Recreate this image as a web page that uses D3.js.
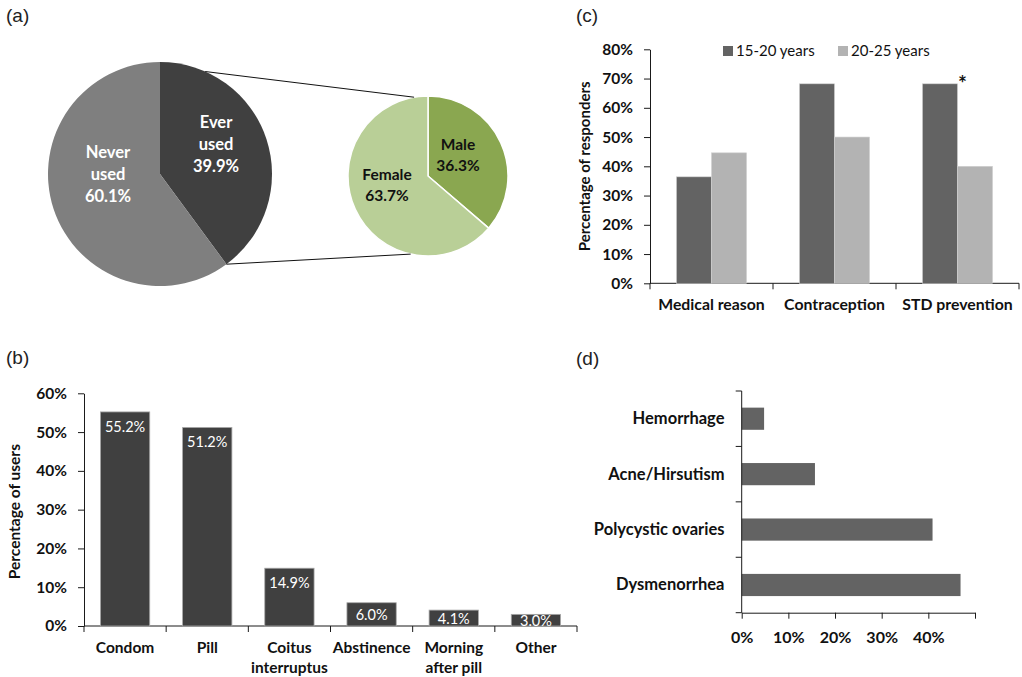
<!DOCTYPE html>
<html>
<head>
<meta charset="utf-8">
<script src="https://cdn.jsdelivr.net/npm/d3@7"></script>
<style>
  html, body { margin: 0; padding: 0; background: #fff; }
  svg { display: block; }
  text { font-family: Lato, "Open Sans", sans-serif; }
</style>
</head>
<body>
<svg id="chart" width="1022" height="677"></svg>
<script>
// ---------- DATA ----------
// (a) pie of pie
const useLabels = ["Ever used", "Never used"];
const useValues = [39.9, 60.1];
const sexLabels = ["Male", "Female"];
const sexValues = [36.3, 63.7];

// (b) methods used
const methodLabels = [["Condom"], ["Pill"], ["Coitus", "interruptus"], ["Abstinence"], ["Morning", "after pill"], ["Other"]];
const methodValues = [55.2, 51.2, 14.9, 6.0, 4.1, 3.0];
const methodTicks = [0, 10, 20, 30, 40, 50, 60];

// (c) reasons by age group
const reasonCategories = ["Medical reason", "Contraception", "STD prevention"];
const ageGroups = ["15-20 years", "20-25 years"];
const reasonYoung = [36.4, 68.2, 68.2];
const reasonOlder = [44.6, 50.0, 40.0];
const reasonTicks = [0, 10, 20, 30, 40, 50, 60, 70, 80];
const significant = ["STD prevention"];

// (d) medical reasons
const medicalCategories = ["Hemorrhage", "Acne/Hirsutism", "Polycystic ovaries", "Dysmenorrhea"];
const medicalValues = [4.8, 15.7, 40.9, 46.9];
const medicalTicks = [0, 10, 20, 30, 40, 50];
const medicalTickLabels = ["0%", "10%", "20%", "30%", "40%", ""];

// ---------- DRAW ----------
const svg = d3.select("#chart");
const FONT = "Lato, 'Open Sans', sans-serif";
const AXIS = "#1a1a1a";

function panelLabel(txt, x, y) {
  svg.append("text").attr("x", x).attr("y", y).text(txt)
    .style("font-family", "'Liberation Sans', Arial, sans-serif")
    .style("font-size", "19px").attr("fill", "#222");
}
panelLabel("(a)", 6, 22);
panelLabel("(c)", 576, 22);
panelLabel("(b)", 6, 364);
panelLabel("(d)", 576, 365);

// ===== (a) =====
(function () {
  const big = { cx: 160, cy: 174, r: 112 };
  const small = { cx: 428, cy: 176, r: 80 };
  const pie = d3.pie().sort(null).value(d => d.v);
  const bigArcs = pie(useLabels.map((l, i) => ({ l, v: useValues[i] })));
  const smallArcs = pie(sexLabels.map((l, i) => ({ l, v: sexValues[i] })));
  const bigColors = ["#404040", "#7f7f7f"];
  const smallColors = ["#8aa750", "#b9cf97"];

  const gB = svg.append("g").attr("transform", `translate(${big.cx},${big.cy})`);
  gB.selectAll("path").data(bigArcs).join("path")
    .attr("d", d3.arc().innerRadius(0).outerRadius(big.r))
    .attr("fill", (d, i) => bigColors[i]);

  const gS = svg.append("g").attr("transform", `translate(${small.cx},${small.cy})`);
  gS.selectAll("path").data(smallArcs).join("path")
    .attr("d", d3.arc().innerRadius(0).outerRadius(small.r))
    .attr("fill", (d, i) => smallColors[i])
    .attr("stroke", "#fff").attr("stroke-width", 1.5);

  // connector lines
  const pt = (c, a) => [c.cx + c.r * Math.sin(a), c.cy - c.r * Math.cos(a)];
  const deg = Math.PI / 180;
  const bigTop = pt(big, 23.8 * deg);
  const bigBot = pt(big, bigArcs[0].endAngle);
  const smTop = pt(small, -10 * deg);
  const smBot = pt(small, 192.5 * deg);
  svg.append("line").attr("x1", bigTop[0]).attr("y1", bigTop[1]).attr("x2", smTop[0]).attr("y2", smTop[1])
    .attr("stroke", "#111").attr("stroke-width", 1);
  svg.append("line").attr("x1", bigBot[0]).attr("y1", bigBot[1]).attr("x2", smBot[0]).attr("y2", smBot[1])
    .attr("stroke", "#111").attr("stroke-width", 1);

  // labels
  const bigLabelPos = [[56, -30], [-52, 0]];
  const bigLines = [["Ever", "used", useValues[0].toFixed(1) + "%"], ["Never", "used", useValues[1].toFixed(1) + "%"]];
  bigLines.forEach((lines, i) => {
    const t = gB.append("text").attr("text-anchor", "middle")
      .attr("transform", `translate(${bigLabelPos[i][0]},${bigLabelPos[i][1]})`)
      .style("font-size", "16.5px").style("font-weight", "bold").attr("fill", "#fff");
    lines.forEach((ln, j) => t.append("tspan").attr("x", 0).attr("y", (j - 1) * 22 + 6).text(ln));
  });
  const smLabelPos = [[30, -20.5], [-41, 9]];
  const smLines = [["Male", sexValues[0].toFixed(1) + "%"], ["Female", sexValues[1].toFixed(1) + "%"]];
  smLines.forEach((lines, i) => {
    const t = gS.append("text").attr("text-anchor", "middle")
      .attr("transform", `translate(${smLabelPos[i][0]},${smLabelPos[i][1]})`)
      .style("font-size", "15.5px").style("font-weight", "bold").attr("fill", "#111");
    lines.forEach((ln, j) => t.append("tspan").attr("x", 0).attr("y", (j - 0.5) * 21 + 5).text(ln));
  });
})();

// ===== (b) =====
(function () {
  const x = d3.scaleBand().domain(d3.range(methodValues.length)).range([84, 577]).paddingInner(0.4).paddingOuter(0.2);
  const y = d3.scaleLinear().domain([0, 60]).range([626, 393.3]);
  const g = svg.append("g");

  const ya = d3.axisLeft(y).tickValues(methodTicks).tickFormat(d => d + "%").tickSize(6).tickSizeOuter(0).tickPadding(11);
  const gy = g.append("g").attr("transform", `translate(${x.range()[0]},0)`).call(ya);
  gy.selectAll("text").style("font-size", "15.5px").style("font-weight", "bold").attr("fill", "#111").style("font-family", FONT);
  gy.selectAll("line,path").attr("stroke", AXIS);

  // x axis line + boundary ticks
  g.append("line").attr("x1", x.range()[0]).attr("x2", x.range()[1]).attr("y1", y(0)).attr("y2", y(0)).attr("stroke", AXIS);
  d3.range(methodValues.length + 1).forEach(i => {
    const xx = x.range()[0] + i * x.step();
    g.append("line").attr("x1", xx).attr("x2", xx).attr("y1", y(0)).attr("y2", y(0) + 6).attr("stroke", AXIS);
  });

  g.selectAll("rect.bar").data(methodValues).join("rect").attr("class", "bar")
    .attr("x", (d, i) => x(i)).attr("width", x.bandwidth())
    .attr("y", d => y(d)).attr("height", d => y(0) - y(d))
    .attr("fill", "#404040").attr("stroke", "#a8a8a8").attr("stroke-width", 0.8);

  g.selectAll("text.val").data(methodValues).join("text").attr("class", "val")
    .attr("x", (d, i) => x(i) + x.bandwidth() / 2)
    .attr("y", d => Math.min(y(d) + 15, (y(d) + y(0)) / 2 + 1) + 5)
    .attr("text-anchor", "middle").attr("fill", "#fff")
    .style("font-size", "14.5px").text(d => d.toFixed(1) + "%");

  methodLabels.forEach((lines, i) => {
    const t = g.append("text").attr("text-anchor", "middle").attr("fill", "#111")
      .style("font-size", "15.5px").style("font-weight", "bold");
    lines.forEach((ln, j) => t.append("tspan").attr("x", x(i) + x.bandwidth() / 2).attr("y", 653 + j * 20).text(ln));
  });

  g.append("text").attr("transform", `translate(20,${(y(0) + y(60)) / 2 + 2}) rotate(-90)`)
    .attr("text-anchor", "middle").attr("fill", "#111")
    .style("font-size", "15.5px").style("font-weight", "bold").text("Percentage of users");
})();

// ===== (c) =====
(function () {
  const x = d3.scaleBand().domain(reasonCategories).range([650, 1019]).paddingInner(0.43).paddingOuter(0.215);
  const xs = d3.scaleBand().domain(ageGroups).range([0, x.bandwidth()]);
  const y = d3.scaleLinear().domain([0, 80]).range([283.3, 49.3]);
  const colors = ["#636363", "#b3b3b3"];
  const g = svg.append("g");

  const ya = d3.axisLeft(y).tickValues(reasonTicks).tickFormat(d => d + "%").tickSize(6).tickSizeOuter(0).tickPadding(11);
  const gy = g.append("g").attr("transform", `translate(${x.range()[0]},0)`).call(ya);
  gy.selectAll("text").style("font-size", "15.5px").style("font-weight", "bold").attr("fill", "#111").style("font-family", FONT);
  gy.selectAll("line,path").attr("stroke", AXIS);

  g.append("line").attr("x1", x.range()[0]).attr("x2", x.range()[1]).attr("y1", y(0)).attr("y2", y(0)).attr("stroke", AXIS);
  d3.range(reasonCategories.length + 1).forEach(i => {
    const xx = x.range()[0] + i * x.step();
    g.append("line").attr("x1", xx).attr("x2", xx).attr("y1", y(0)).attr("y2", y(0) + 6).attr("stroke", AXIS);
  });

  const series = [reasonYoung, reasonOlder];
  series.forEach((vals, s) => {
    g.selectAll(null).data(vals).join("rect")
      .attr("x", (d, i) => x(reasonCategories[i]) + xs(ageGroups[s]))
      .attr("width", xs.bandwidth())
      .attr("y", d => y(d)).attr("height", d => y(0) - y(d))
      .attr("fill", colors[s]).attr("stroke", "#d0d0d0").attr("stroke-width", 0.6);
  });

  // asterisk
  significant.forEach(c => {
    const i = reasonCategories.indexOf(c);
    g.append("text").attr("x", x(c) + xs(ageGroups[0]) + xs.bandwidth() + 5)
      .attr("y", y(reasonYoung[i]) + 7).attr("text-anchor", "middle")
      .style("font-size", "21px").style("font-weight", "bold").style("fill", "#111").text("*");
  });

  g.selectAll("text.cat").data(reasonCategories).join("text").attr("class", "cat")
    .attr("x", d => x(d) + x.bandwidth() / 2).attr("y", 310)
    .attr("text-anchor", "middle").attr("fill", "#111")
    .style("font-size", "15.8px").style("font-weight", "bold").text(d => d);

  // legend
  const legX = [723, 838];
  ageGroups.forEach((a, i) => {
    g.append("rect").attr("x", legX[i]).attr("y", 46).attr("width", 10).attr("height", 10).attr("fill", colors[i]);
    g.append("text").attr("x", legX[i] + 13).attr("y", 56).attr("fill", "#111")
      .style("font-size", "15px").text(a);
  });

  g.append("text").attr("transform", `translate(590,${(y(0) + y(80)) / 2}) rotate(-90)`)
    .attr("text-anchor", "middle").attr("fill", "#111")
    .style("font-size", "15px").style("font-weight", "bold").text("Percentage of responders");
})();

// ===== (d) =====
(function () {
  const y = d3.scaleBand().domain(medicalCategories).range([391, 612.7]).paddingInner(0.6).paddingOuter(0.3);
  const x = d3.scaleLinear().domain([0, 50]).range([741.7, 975]);
  const g = svg.append("g");

  g.selectAll("rect").data(medicalValues).join("rect")
    .attr("x", x(0)).attr("y", (d, i) => y(medicalCategories[i]))
    .attr("width", d => x(d) - x(0)).attr("height", y.bandwidth())
    .attr("fill", "#636363");

  const xa = d3.axisBottom(x).tickValues(medicalTicks).tickFormat((d, i) => medicalTickLabels[i])
    .tickSize(6).tickSizeOuter(0).tickPadding(13);
  const gx = g.append("g").attr("transform", `translate(0,${y.range()[1]})`).call(xa);
  gx.selectAll("text").style("font-size", "16px").style("font-weight", "bold").attr("fill", "#111").style("font-family", FONT);
  gx.selectAll("line,path").attr("stroke", AXIS);

  g.append("line").attr("x1", x(0)).attr("x2", x(0)).attr("y1", y.range()[0]).attr("y2", y.range()[1]).attr("stroke", AXIS);
  d3.range(medicalCategories.length + 1).forEach(i => {
    const yy = y.range()[0] + i * y.step();
    g.append("line").attr("x1", x(0) - 6).attr("x2", x(0)).attr("y1", yy).attr("y2", yy).attr("stroke", AXIS);
  });

  g.selectAll("text.cat").data(medicalCategories).join("text").attr("class", "cat")
    .attr("x", 724.5).attr("y", d => y(d) + y.bandwidth() / 2 + 5.5)
    .attr("text-anchor", "end").attr("fill", "#111")
    .style("font-size", "16.5px").style("font-weight", "bold").text(d => d);
})();
</script>
</body>
</html>
